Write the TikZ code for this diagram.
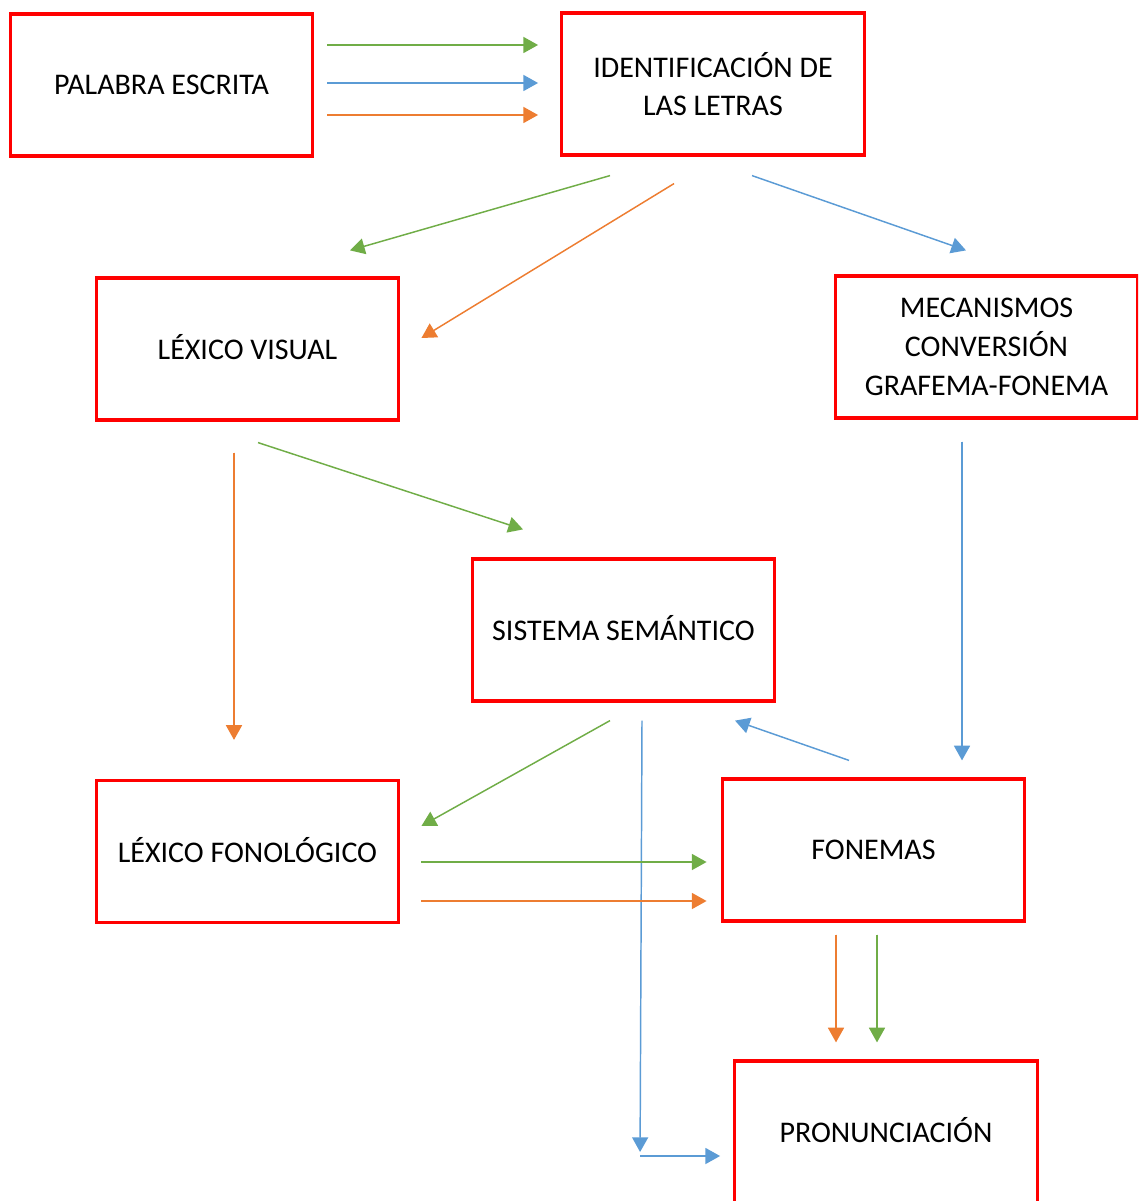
\documentclass[tikz,border=0pt]{standalone}
\usepackage{fontspec}
\setmainfont{Carlito}
\usetikzlibrary{arrows.meta,calc}
\definecolor{cgreen}{HTML}{70AD47}
\definecolor{cblue}{HTML}{5B9BD5}
\definecolor{corange}{HTML}{ED7D31}
\tikzset{
  box/.style={draw=red, line width=2.4pt, inner sep=0pt, align=center,
    font=\fontsize{22.5}{29}\selectfont, minimum width=227pt, minimum height=106.5pt},
  arr/.style={line width=1.1pt, -{Triangle[length=11pt,width=12pt]}},
  ga/.style={arr, draw=cgreen, fill=cgreen},
  ba/.style={arr, draw=cblue, fill=cblue},
  oa/.style={arr, draw=corange, fill=corange}
}
\begin{document}
\begin{tikzpicture}[x=0.75pt,y=-0.75pt]
\useasboundingbox (0,0) rectangle (1138,1201);
\clip (0,0) rectangle (1138,1201);
\node[box] (pal) at (161.5,85) {\raisebox{1pt}{PALABRA ESCRITA}};
\node[box] (ident) at (713,84) {\raisebox{6pt}{\parbox{220pt}{\centering IDENTIFICACIÓN DE\\LAS LETRAS}}};
\node[box] (lexv) at (247.5,349) {\raisebox{2.5pt}{LÉXICO VISUAL}};
\node[box] (meca) at (986.5,347) {MECANISMOS\\CONVERSIÓN\\GRAFEMA-FONEMA};
\node[box] (sem) at (623.5,630) {\raisebox{2.5pt}{SISTEMA SEMÁNTICO}};
\node[box] (lexf) at (247.5,851.5) {\raisebox{2.5pt}{LÉXICO FONOLÓGICO}};
\node[box] (fon) at (873.5,850) {FONEMAS};
\node[box, minimum height=120pt] (pron) at (886,1141) {\raisebox{16pt}{PRONUNCIACIÓN}};

\draw[ga] ($(pal.east)+(13,-40)$) -- ($(ident.west)+(-22,-39)$);
\draw[ba] ($(pal.east)+(13,-2)$) -- ($(ident.west)+(-22,-1)$);
\draw[oa] ($(pal.east)+(13,30)$) -- ($(ident.west)+(-22,31)$);

\draw[ga] ($(ident.south)+(-103,19)$) -- ($(lexv.north)+(102.5,-26)$);
\draw[oa] ($(ident.south)+(-39,27)$) -- ($(lexv.east)+(21,-11)$);
\draw[ba] ($(ident.south)+(39,19)$) -- ($(meca.north)+(-20.5,-24)$);

\draw[oa] ($(lexv.south)+(-13.5,31)$) -- ($(lexf.north)+(-13.5,-39)$);
\draw[ga] ($(lexv.south)+(10.5,21)$) -- ($(sem.north)+(-100.5,-28)$);
\draw[ba] ($(meca.south)+(-24.5,22)$) -- ($(fon.north)+(88.5,-17)$);

\draw[ga] ($(sem.south)+(-13.5,18)$) -- ($(lexf.east)+(21,-25.5)$);
\draw[ba] ($(sem.south)+(18.5,18)$) -- ($(pron.west)+(-93,11)$);
\draw[ba] ($(fon.north)+(-24.5,-17)$) -- ($(sem.south)+(111.5,18)$);

\draw[ga] ($(lexf.east)+(21,10.5)$) -- ($(fon.west)+(-14,12)$);
\draw[oa] ($(lexf.east)+(21,49.5)$) -- ($(fon.west)+(-14,51)$);

\draw[oa] ($(fon.south)+(-37.5,12)$) -- ($(pron.north)+(-50,-17)$);
\draw[ga] ($(fon.south)+(3.5,12)$) -- ($(pron.north)+(-9,-17)$);
\draw[ba] ($(pron.west)+(-93,15)$) -- ($(pron.west)+(-13,15)$);
\end{tikzpicture}
\end{document}
